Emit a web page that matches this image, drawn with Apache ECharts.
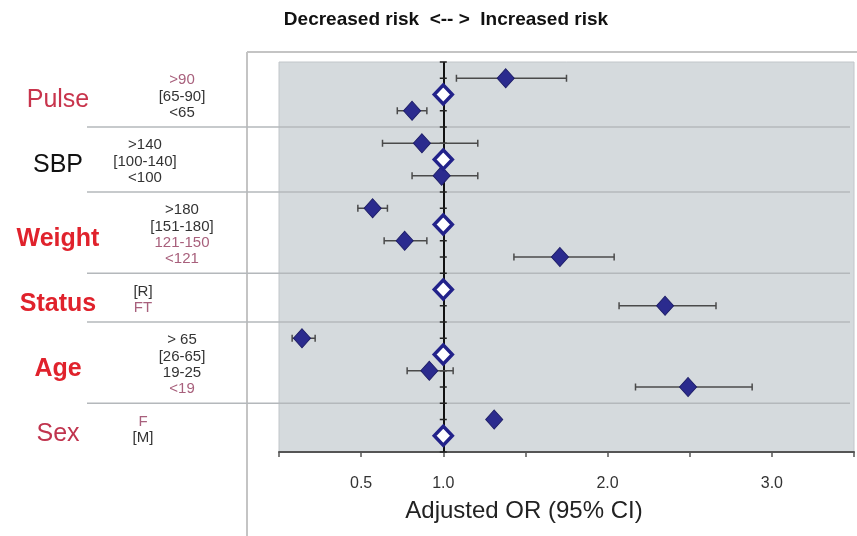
<!DOCTYPE html>
<html>
<head>
<meta charset="utf-8">
<script src="https://cdn.jsdelivr.net/npm/echarts@6/dist/echarts.min.js"></script>
<style>
html,body{margin:0;padding:0;background:#fff;}
#c{width:857px;height:536px;}
</style>
</head>
<body>
<div id="c"></div>
<script>
// ---------------- DATA ----------------
const groupNames = ['Pulse', 'SBP', 'Weight', 'Status', 'Age', 'Sex'];
const levelCounts = [3, 3, 4, 2, 4, 2];
const levelLabels = ['>90', '[65-90]', '<65',
                     '>140', '[100-140]', '<100',
                     '>180', '[151-180]', '121-150', '<121',
                     '[R]', 'FT',
                     '> 65', '[26-65]', '19-25', '<19',
                     'F', '[M]'];
const oddsRatio = [1.38, 1.00, 0.81,
                   0.87, 1.00, 0.99,
                   0.57, 1.00, 0.765, 1.71,
                   1.00, 2.35,
                   0.14, 1.00, 0.915, 2.49,
                   1.31, 1.00];
const ciLower = [1.08, null, 0.72,
                 0.63, null, 0.81,
                 0.48, null, 0.64, 1.43,
                 null, 2.07,
                 0.08, null, 0.78, 2.17,
                 null, null];
const ciUpper = [1.75, null, 0.90,
                 1.21, null, 1.21,
                 0.66, null, 0.90, 2.04,
                 null, 2.66,
                 0.22, null, 1.06, 2.88,
                 null, null];
const isReference = [false, true, false,
                     false, true, false,
                     false, true, false, false,
                     true, false,
                     false, true, false, false,
                     false, true];
const xTickLabels = [0.5, 1.0, 2.0, 3.0];
const axisTitle = 'Adjusted OR (95% CI)';
const topCaption = 'Decreased risk  <-- >  Increased risk';

// ---------------- STYLE / LAYOUT ----------------
const FONT = "'Liberation Sans', Arial, sans-serif";
const groupStyle = [
  {color: '#c8344c', weight: 'normal'},
  {color: '#111111', weight: 'normal'},
  {color: '#e0222c', weight: 'bold'},
  {color: '#e0222c', weight: 'bold'},
  {color: '#e0222c', weight: 'bold'},
  {color: '#c0344e', weight: 'normal'}
];
const levelCenterX = [182, 145, 182, 143, 182, 143];
const mutedLevel = [true, false, false, false, false, false, false, false, true, true, false, true, false, false, false, true, true, false];

// slots (row positions on the hidden y scale) derived from the group structure
const rowSlot = [];
const rowGroup = [];
const dividerSlots = [];
const groupSlots = [];
let totalSlots = 0;
(function () {
  let s = 1;
  levelCounts.forEach((n, g) => {
    const slots = [];
    for (let k = 0; k < n; k++) { rowSlot.push(s); rowGroup.push(g); slots.push(s); s++; }
    groupSlots.push(slots);
    if (g < levelCounts.length - 1) { dividerSlots.push(s); s++; }
  });
  totalSlots = s;
})();

const filledData = [], openData = [], errData = [], tickData = [];
oddsRatio.forEach((v, i) => {
  if (isReference[i]) openData.push([v, rowSlot[i]]);
  else filledData.push([v, rowSlot[i]]);
  if (ciLower[i] != null) errData.push([rowSlot[i], ciLower[i], ciUpper[i]]);
});
for (let k = 0; k <= totalSlots; k++) tickData.push([1, k]);

const chart = echarts.init(document.getElementById('c'), null, {renderer: 'canvas'});

const option = {
  animation: false,
  backgroundColor: '#ffffff',
  textStyle: {fontFamily: FONT},
  grid: {left: 279, right: 0, top: 62, bottom: 84, show: true,
         backgroundColor: '#d5dadd', borderColor: '#c2c6ca', borderWidth: 1},
  xAxis: {
    type: 'value', min: 0, max: 3.5, interval: 0.5, position: 'bottom',
    axisLine: {onZero: false, lineStyle: {color: '#555', width: 2}},
    axisTick: {length: 5, lineStyle: {color: '#555', width: 1.5}},
    splitLine: {show: false},
    axisLabel: {
      margin: 24, fontSize: 16, color: '#333', fontFamily: FONT,
      formatter: v => xTickLabels.some(t => Math.abs(t - v) < 1e-9) ? v.toFixed(1) : ''
    }
  },
  yAxis: {type: 'value', min: 0, max: totalSlots, inverse: true, show: false},
  series: [
    {
      type: 'scatter', name: 'refticks', data: tickData, z: 2,
      symbol: 'rect', symbolSize: [7, 1.5], itemStyle: {color: '#222', opacity: 1}, silent: true,
      markLine: {
        silent: true, symbol: 'none', label: {show: false}, z: 2,
        lineStyle: {color: '#111', width: 2, type: 'solid'},
        data: [{xAxis: 1}]
      }
    },
    {
      type: 'custom', name: 'ci', data: errData, z: 3,
      encode: {x: [1, 2], y: 0},
      renderItem: function (params, api) {
        const y = api.value(0);
        const lo = api.coord([api.value(1), y]);
        const hi = api.coord([api.value(2), y]);
        const h = 3.5;
        const st = {stroke: '#4a4a4a', lineWidth: 1.5};
        return {
          type: 'group',
          children: [
            {type: 'line', shape: {x1: lo[0], y1: lo[1], x2: hi[0], y2: hi[1]}, style: st},
            {type: 'line', shape: {x1: lo[0], y1: lo[1] - h, x2: lo[0], y2: lo[1] + h}, style: st},
            {type: 'line', shape: {x1: hi[0], y1: hi[1] - h, x2: hi[0], y2: hi[1] + h}, style: st}
          ]
        };
      }
    },
    {
      type: 'scatter', name: 'estimate', data: filledData, z: 6,
      symbol: 'diamond', symbolSize: [17, 19],
      itemStyle: {color: '#2b2b8e', borderColor: '#1c1c66', borderWidth: 1, opacity: 1}
    },
    {
      type: 'scatter', name: 'reference', data: openData, z: 7,
      symbol: 'diamond', symbolSize: [18, 19],
      itemStyle: {color: '#ffffff', borderColor: '#22228a', borderWidth: 3.5, opacity: 1}
    }
  ]
};
chart.setOption(option);

// ------------- text & frame graphics placed through the chart's scales -------------
function py(slot) { return chart.convertToPixel({gridIndex: 0}, [1, slot])[1]; }
const plotRight = chart.convertToPixel({gridIndex: 0}, [3.5, 0])[0];

const graphics = [];
graphics.push({type: 'line', z: 1, shape: {x1: 247, y1: 52, x2: 247, y2: 536}, style: {stroke: '#c4c4c4', lineWidth: 2}});
graphics.push({type: 'line', z: 1, shape: {x1: 247, y1: 52, x2: 857, y2: 52}, style: {stroke: '#c4c4c4', lineWidth: 2}});
dividerSlots.forEach(s => {
  const y = py(s);
  graphics.push({type: 'line', z: 1, shape: {x1: 87, y1: y, x2: plotRight - 4, y2: y},
                 style: {stroke: '#b4b8bb', lineWidth: 1.5}});
});
graphics.push({type: 'text', x: 446, y: 20, style: {text: topCaption, font: 'bold 19px ' + FONT,
  fill: '#111', align: 'center', verticalAlign: 'middle'}});
graphics.push({type: 'text', x: 524, y: 511, style: {text: axisTitle, font: '24px ' + FONT,
  fill: '#222', align: 'center', verticalAlign: 'middle'}});
groupNames.forEach((name, g) => {
  const slots = groupSlots[g];
  const mid = (py(slots[0]) + py(slots[slots.length - 1])) / 2 + 6;
  graphics.push({type: 'text', x: 58, y: mid, style: {text: name,
    font: groupStyle[g].weight + ' 25px ' + FONT, fill: groupStyle[g].color,
    align: 'center', verticalAlign: 'middle'}});
});
levelLabels.forEach((lab, i) => {
  graphics.push({type: 'text', x: levelCenterX[rowGroup[i]], y: py(rowSlot[i]) + 2, style: {text: lab,
    font: '15px ' + FONT, fill: mutedLevel[i] ? '#a8607c' : '#333',
    align: 'center', verticalAlign: 'middle'}});
});
chart.setOption({graphic: graphics});
</script>
</body>
</html>
